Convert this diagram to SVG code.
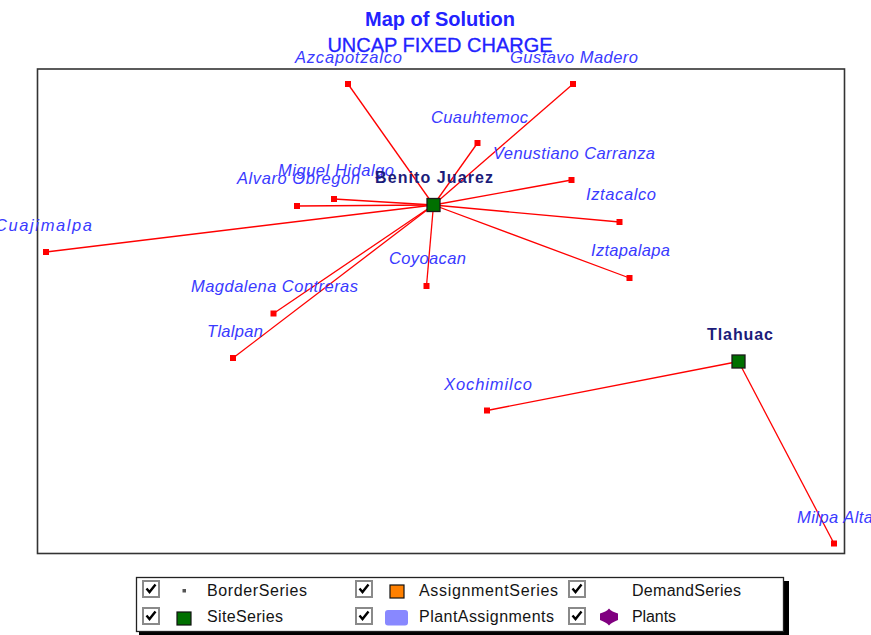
<svg xmlns="http://www.w3.org/2000/svg" width="871" height="635" viewBox="0 0 871 635">
  <style>
    .title { font-family: "Liberation Sans", Arial, sans-serif; fill: #2222ff; text-anchor: middle; }
    .lbl { font-family: "Liberation Sans", Arial, sans-serif; font-size: 16.5px; font-style: italic; fill: #3a3aff; }
    .site-lbl { font-family: "Liberation Sans", Arial, sans-serif; font-size: 16px; font-weight: bold; fill: #1c1c7a; }
    .leg { font-family: "Liberation Sans", Arial, sans-serif; font-size: 16px; fill: #141414; }
    .link { stroke: #ff0000; stroke-width: 1.3; fill: none; }
    .demand { fill: #ff0000; }
    .site { fill: #007000; stroke: #1a1a1a; stroke-width: 1.3; }
    .chk { fill: #ffffff; stroke: #8a8a8a; stroke-width: 2; }
    .tick { fill: none; stroke: #000000; stroke-width: 2.4; stroke-linejoin: miter; }
  </style>
  <defs>
    <g id="checkbox">
      <rect class="chk" x="1" y="1" width="16" height="16"/>
      <path class="tick" d="M4.5 8.5 L7.5 12 L13.5 4.5"/>
    </g>
  </defs>

  <rect width="871" height="635" fill="#ffffff"/>

  <!-- titles -->
  <text class="title" x="440" y="26" font-size="20" font-weight="bold">Map of Solution</text>
  <text class="title" x="440" y="52" font-size="20" stroke="#2222ff" stroke-width="0.3">UNCAP FIXED CHARGE</text>

  <!-- plot frame -->
  <rect x="37.5" y="69" width="807" height="484.5" fill="none" stroke="#333333" stroke-width="1.6"/>

  <!-- assignment connectors -->
  <g id="connectors">
    <line class="link" x1="433.5" y1="205" x2="348" y2="84"/>
    <line class="link" x1="433.5" y1="205" x2="573" y2="84"/>
    <line class="link" x1="433.5" y1="205" x2="477.5" y2="143"/>
    <line class="link" x1="433.5" y1="205" x2="571.5" y2="180"/>
    <line class="link" x1="433.5" y1="205" x2="619.5" y2="222"/>
    <line class="link" x1="433.5" y1="205" x2="629.5" y2="278"/>
    <line class="link" x1="433.5" y1="205" x2="426.5" y2="286"/>
    <line class="link" x1="433.5" y1="205" x2="334" y2="199"/>
    <line class="link" x1="433.5" y1="205" x2="297" y2="206"/>
    <line class="link" x1="433.5" y1="205" x2="46" y2="252"/>
    <line class="link" x1="433.5" y1="205" x2="273.5" y2="313.5"/>
    <line class="link" x1="433.5" y1="205" x2="233" y2="358"/>
    <line class="link" x1="738.5" y1="361.5" x2="487" y2="410.5"/>
    <line class="link" x1="738.5" y1="361.5" x2="834" y2="543.5"/>
  </g>

  <!-- demand points -->
  <g id="azcapotzalco"><rect class="demand" x="345" y="81" width="6" height="6"/><text class="lbl" x="295" y="63" textLength="107">Azcapotzalco</text></g>
  <g id="gustavo-madero"><rect class="demand" x="570" y="81" width="6" height="6"/><text class="lbl" x="510" y="63" textLength="128">Gustavo Madero</text></g>
  <g id="cuauhtemoc"><rect class="demand" x="474.5" y="140" width="6" height="6"/><text class="lbl" x="431" y="123" textLength="97">Cuauhtemoc</text></g>
  <g id="venustiano-carranza"><rect class="demand" x="568.5" y="177" width="6" height="6"/><text class="lbl" x="493" y="159" textLength="162">Venustiano Carranza</text></g>
  <g id="iztacalco"><rect class="demand" x="616.5" y="219" width="6" height="6"/><text class="lbl" x="586" y="200" textLength="70">Iztacalco</text></g>
  <g id="iztapalapa"><rect class="demand" x="626.5" y="275" width="6" height="6"/><text class="lbl" x="591" y="256" textLength="79">Iztapalapa</text></g>
  <g id="coyoacan"><rect class="demand" x="423.5" y="283" width="6" height="6"/><text class="lbl" x="389" y="264" textLength="77">Coyoacan</text></g>
  <g id="miguel-hidalgo"><rect class="demand" x="331" y="196" width="6" height="6"/><text class="lbl" x="278" y="176" textLength="116">Miguel Hidalgo</text></g>
  <g id="alvaro-obregon"><rect class="demand" x="294" y="203" width="6" height="6"/><text class="lbl" x="237" y="184" textLength="123">Alvaro Obregon</text></g>
  <g id="cuajimalpa"><rect class="demand" x="43" y="249" width="6" height="6"/><text class="lbl" x="-5" y="231" textLength="97">Cuajimalpa</text></g>
  <g id="magdalena-contreras"><rect class="demand" x="270.5" y="310.5" width="6" height="6"/><text class="lbl" x="191" y="292" textLength="167">Magdalena Contreras</text></g>
  <g id="tlalpan"><rect class="demand" x="230" y="355" width="6" height="6"/><text class="lbl" x="207" y="337" textLength="56">Tlalpan</text></g>
  <g id="xochimilco"><rect class="demand" x="484" y="407.5" width="6" height="6"/><text class="lbl" x="444" y="390" textLength="88">Xochimilco</text></g>
  <g id="milpa-alta"><rect class="demand" x="831" y="540.5" width="6" height="6"/><text class="lbl" x="797" y="523" textLength="76">Milpa Alta</text></g>

  <!-- open sites -->
  <g id="benito-juarez"><rect class="site" x="427" y="198.5" width="13" height="13"/><text class="site-lbl" x="375" y="183" textLength="118">Benito Juarez</text></g>
  <g id="tlahuac"><rect class="site" x="732" y="355" width="13" height="13"/><text class="site-lbl" x="707" y="340" textLength="66">Tlahuac</text></g>

  <!-- legend -->
  <g id="legend">
    <rect x="139" y="581" width="650" height="58" fill="#000000"/>
    <rect x="136.5" y="577.5" width="647" height="54" fill="#ffffff" stroke="#222222" stroke-width="1.3"/>

    <use href="#checkbox" x="142" y="580"/>
    <use href="#checkbox" x="142" y="607"/>
    <use href="#checkbox" x="355" y="580"/>
    <use href="#checkbox" x="355" y="607"/>
    <use href="#checkbox" x="568" y="580"/>
    <use href="#checkbox" x="568" y="607"/>

    <rect x="182.5" y="589" width="3.5" height="3.5" fill="#555555"/>
    <rect x="177" y="612" width="14" height="13" fill="#007000" stroke="#111111" stroke-width="1.2"/>
    <rect x="390" y="585" width="14" height="13" fill="#ff8000" stroke="#111111" stroke-width="1.2"/>
    <rect x="385" y="610" width="23" height="15.5" rx="3" fill="#8888ff"/>
    <path d="M609 608.5 C611 611 614 612 618 613.5 L618 620 C614 621.5 611 623 609 625.5 C607 623 604 621.5 600 620 L600 613.5 C604 612 607 611 609 608.5 Z" fill="#800080"/>

    <text class="leg" x="207" y="596" textLength="100">BorderSeries</text>
    <text class="leg" x="207" y="622" textLength="76">SiteSeries</text>
    <text class="leg" x="419" y="596" textLength="139">AssignmentSeries</text>
    <text class="leg" x="419" y="622" textLength="135">PlantAssignments</text>
    <text class="leg" x="632" y="596" textLength="109">DemandSeries</text>
    <text class="leg" x="632" y="622" textLength="44">Plants</text>
  </g>
</svg>
